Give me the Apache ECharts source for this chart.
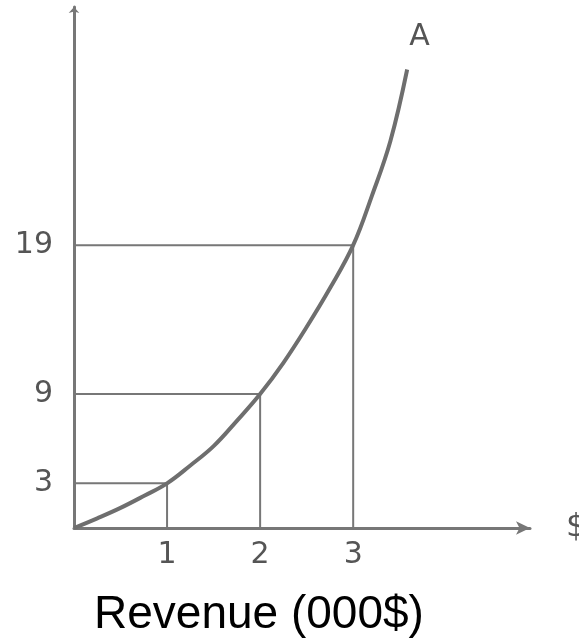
<!DOCTYPE html>
<html>
<head>
<meta charset="utf-8">
<script src="https://cdn.jsdelivr.net/npm/echarts@6/dist/echarts.min.js"></script>
<style>
  html, body { margin: 0; padding: 0; background: #fff; }
  #chart { width: 579px; height: 643px; }
</style>
</head>
<body>
<div id="chart"></div>
<script>
// tick labels shown on the axes
const xTicks = [1, 2, 3];
const yTicks = [3, 9, 19];
// curve A (revenue vs value)
const curveX = [0, 0.25, 0.5, 0.75, 1, 1.25, 1.5, 1.75, 2, 2.25, 2.5, 2.75, 3, 3.2, 3.4, 3.58];
const curveY = [0, 0.65, 1.35, 2.15, 3, 4.2, 5.5, 7.2, 9, 11.1, 13.5, 16.1, 19, 22.3, 26, 30.8];
// points marked with guide lines
const guideX = [1, 2, 3];
const guideY = [3, 9, 19];

const lineGray = "#6e6e6e";
const guideGray = "#777";
const textGray = "#555";

const curveData = curveX.map((x, i) => [x, curveY[i]]);

// guide lines: from the y axis across to the curve, then down to the x axis
const guideSeries = guideX.map((x, i) => ({
  type: "line",
  data: [[0, guideY[i]], [x, guideY[i]], [x, 0]],
  symbol: "none",
  lineStyle: { color: guideGray, width: 2 },
  silent: true,
  z: 1,
}));

const chart = echarts.init(document.getElementById("chart"));
chart.setOption({
  animation: false,
  title: {
    text: "Revenue (000$)",
    left: 89,
    top: 587,
    textStyle: {
      fontFamily: "Liberation Sans",
      fontSize: 46,
      fontWeight: "normal",
      color: "#000",
    },
  },
  grid: {
    left: 74,
    right: 49,
    top: 7,
    bottom: 115,
    containLabel: false,
    outerBoundsMode: "none",
  },
  xAxis: {
    type: "value",
    min: 0,
    max: 4.9,
    interval: 1,
    name: "$",
    nameLocation: "end",
    nameGap: 36,
    nameTextStyle: { fontSize: 32, color: textGray, fontFamily: "DejaVu Sans" },
    axisLine: {
      show: true,
      symbol: ["none", "arrow"],
      symbolSize: [10, 14],
      lineStyle: { color: guideGray, width: 3 },
    },
    axisTick: { show: false },
    splitLine: { show: false },
    axisLabel: {
      margin: 12,
      fontSize: 30,
      fontFamily: "DejaVu Sans",
      color: textGray,
      formatter: (v) => (xTicks.includes(v) ? String(v) : ""),
    },
  },
  yAxis: {
    type: "value",
    min: 0,
    max: 35,
    interval: 1,
    axisLine: {
      show: true,
      symbol: ["none", "arrow"],
      symbolSize: [8, 6],
      lineStyle: { color: guideGray, width: 3 },
    },
    axisTick: { show: false },
    splitLine: { show: false },
    axisLabel: {
      margin: 21,
      fontSize: 30,
      fontFamily: "DejaVu Sans",
      color: textGray,
      formatter: (v) => (yTicks.includes(v) ? String(v) : ""),
    },
  },
  series: [
    ...guideSeries,
    {
      type: "line",
      data: curveData,
      smooth: 0.4,
      symbol: "none",
      lineStyle: { color: lineGray, width: 4 },
      endLabel: {
        show: true,
        formatter: "A",
        offset: [-6, -32],
        fontSize: 30,
        fontFamily: "DejaVu Sans",
        color: textGray,
      },
      z: 3,
    },
  ],
});
</script>
</body>
</html>
